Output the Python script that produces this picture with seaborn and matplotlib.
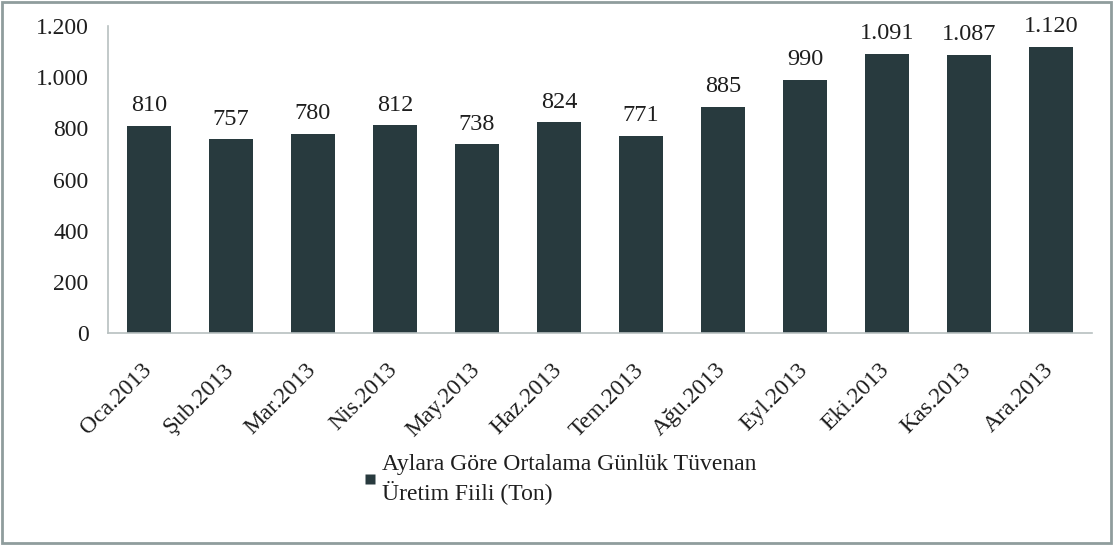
import matplotlib
matplotlib.use("Agg")
import matplotlib.pyplot as plt
from matplotlib.patches import Rectangle
from matplotlib.lines import Line2D
from matplotlib.transforms import ScaledTranslation
import seaborn as sns
import pandas as pd

months = ["Oca.2013", "Şub.2013", "Mar.2013", "Nis.2013", "May.2013", "Haz.2013",
          "Tem.2013", "Ağu.2013", "Eyl.2013", "Eki.2013", "Kas.2013", "Ara.2013"]
production = [810, 757, 780, 812, 738, 824, 771, 885, 990, 1091, 1087, 1120]
value_labels = ["810", "757", "780", "812", "738", "824", "771", "885", "990",
                "1.091", "1.087", "1.120"]
y_ticks = [0, 200, 400, 600, 800, 1000, 1200]
y_tick_labels = ["0", "200", "400", "600", "800", "1.000", "1.200"]
series_name = "Aylara Göre Ortalama Günlük Tüvenan\nÜretim Fiili (Ton)"

sns.set_theme(style="white")
plt.rcParams["font.family"] = ["Liberation Serif", "DejaVu Serif"]

bar_color = "#283a3e"
text_color = "#1e1e1e"

df = pd.DataFrame({"month": months, "value": production})

fig = plt.figure(figsize=(11.13, 5.45), dpi=100)
ax = fig.add_axes([0.097, 0.389, 0.884, 0.563])

sns.barplot(data=df, x="month", y="value", color=bar_color, width=0.54,
            saturation=1, ax=ax, edgecolor="none")

ax.set_ylim(0, 1200)
ax.set_xlim(-0.5, len(months) - 0.5)
ax.set_yticks(y_ticks)
ax.set_yticklabels(y_tick_labels, fontsize=17, color=text_color)
ax.set_xticks(range(len(months)))
ax.set_xticklabels(months, rotation=45, ha="right", rotation_mode="anchor",
                   fontsize=17, color=text_color)
ax.tick_params(axis="x", pad=19, length=0)
ax.tick_params(axis="y", pad=14, length=0)
shift = ScaledTranslation(-8 / 100, 0, fig.dpi_scale_trans)
for lab in ax.get_xticklabels():
    lab.set_transform(lab.get_transform() + shift)
ax.set_xlabel("")
ax.set_ylabel("")

for side in ["top", "right"]:
    ax.spines[side].set_visible(False)
ax.spines["left"].set_color("#b8c0c0")
ax.spines["bottom"].set_color("#b8c0c0")
ax.spines["left"].set_linewidth(1.2)
ax.spines["bottom"].set_linewidth(1.2)

for i, (v, lab) in enumerate(zip(production, value_labels)):
    ax.annotate(lab, (i, v), xytext=(0, 7), textcoords="offset points",
                ha="center", va="bottom", fontsize=17.5, color=text_color)

handle = Line2D([0], [0], marker="s", color="none", markerfacecolor=bar_color,
                markeredgecolor="none", markersize=7)
leg = fig.legend([handle], [series_name], loc="upper left",
                 bbox_to_anchor=(0.3185, 0.184), frameon=False, fontsize=17,
                 handlelength=0.5, handletextpad=0.25, borderaxespad=0,
                 labelspacing=0.2)
for t in leg.get_texts():
    t.set_color(text_color)
    t.set_linespacing(1.25)

fig.patches.append(Rectangle((0.002, 0.004), 0.996, 0.992, transform=fig.transFigure,
                             fill=False, edgecolor="#8f9d9d", linewidth=2))

fig.savefig("out.png", dpi=100, facecolor="white")
